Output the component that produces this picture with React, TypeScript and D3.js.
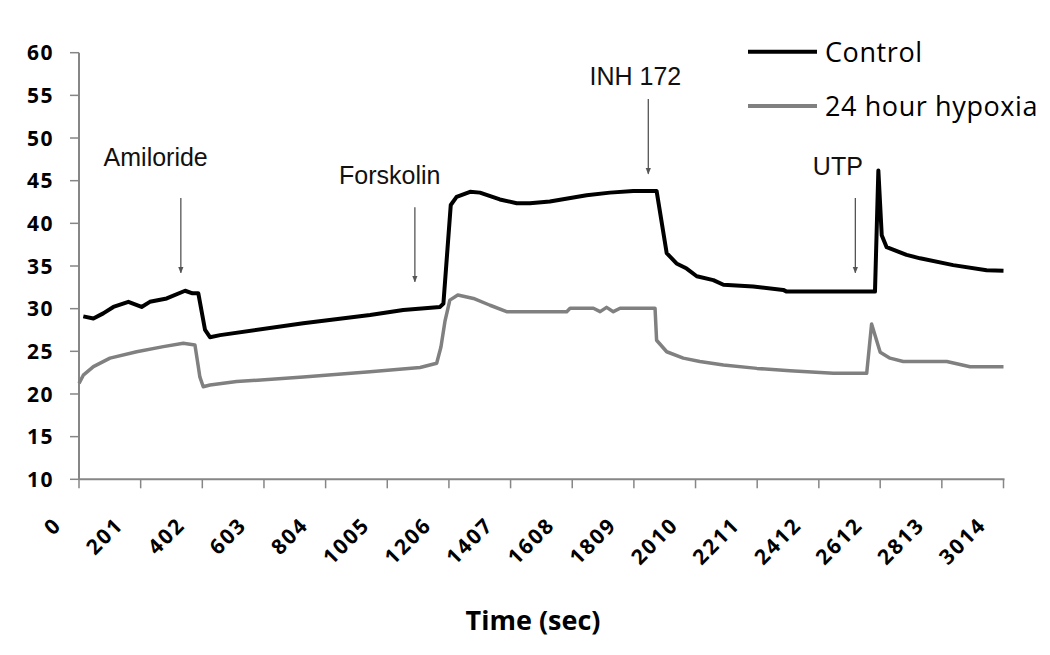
import React, { useEffect, useRef } from 'react';
import * as d3 from 'd3';

// time (sec) / value pairs
const controlTime = [14, 47, 79, 112, 161, 204, 231, 286, 346, 370, 389, 411, 427, 460, 731, 949, 1057, 1177, 1188, 1212, 1231, 1275, 1307, 1372, 1427, 1470, 1535, 1655, 1731, 1807, 1883, 1916, 1948, 1981, 2014, 2068, 2101, 2198, 2296, 2307, 2595, 2606, 2617, 2633, 2698, 2742, 2850, 2959, 3014];
const controlValue = [29.1, 28.85, 29.45, 30.2, 30.8, 30.2, 30.8, 31.2, 32.1, 31.8, 31.8, 27.5, 26.65, 26.9, 28.3, 29.25, 29.85, 30.2, 30.6, 42.15, 43.1, 43.7, 43.6, 42.8, 42.35, 42.35, 42.55, 43.3, 43.6, 43.8, 43.8, 36.5, 35.3, 34.7, 33.8, 33.35, 32.8, 32.6, 32.2, 32.0, 32.0, 46.2, 38.6, 37.2, 36.3, 35.9, 35.1, 34.5, 34.45];

const hypoxiaTime = [0, 14, 47, 101, 188, 275, 340, 378, 389, 394, 405, 427, 514, 731, 949, 1112, 1166, 1180, 1193, 1209, 1235, 1286, 1340, 1394, 1590, 1601, 1677, 1699, 1720, 1742, 1764, 1878, 1883, 1916, 1970, 2024, 2101, 2210, 2318, 2459, 2568, 2584, 2612, 2644, 2687, 2829, 2905, 3014];
const hypoxiaValue = [21.25, 22.2, 23.2, 24.2, 24.95, 25.55, 25.95, 25.75, 23.2, 22.0, 20.85, 21.05, 21.45, 22.0, 22.6, 23.1, 23.6, 25.5, 28.5, 31.0, 31.6, 31.2, 30.4, 29.65, 29.65, 30.05, 30.05, 29.65, 30.15, 29.65, 30.05, 30.05, 26.3, 24.95, 24.2, 23.8, 23.4, 23.0, 22.73, 22.42, 22.42, 28.2, 24.9, 24.2, 23.8, 23.8, 23.2, 23.2];

const xTickLabels = [0, 201, 402, 603, 804, 1005, 1206, 1407, 1608, 1809, 2010, 2211, 2412, 2612, 2813, 3014];
const yTickLabels = [10, 15, 20, 25, 30, 35, 40, 45, 50, 55, 60];

const seriesNames = ['Control', '24 hour hypoxia'];
const seriesColors = ['#000000', '#808080'];

// treatment annotations: label, arrow time, arrow top/bottom value, label value
const annotLabels = ['Amiloride', 'Forskolin', 'INH 172', 'UTP'];
const annotTime = [332, 1095, 1856, 2531];
const annotLabelTime = [250, 1013, 1814, 2474];
const annotTop = [42.97, 41.9, 54.57, 42.97];
const annotBottom = [34.2, 33.15, 45.8, 34.2];
const annotLabelValue = [46.72, 44.61, 56.2, 45.67];

const W = 1050, H = 655;
const margin = { left: 79, right: 46.5, top: 52.7, bottom: 175.7 };
const axisColor = '#868686';
const tickFont = "'Open Sans', sans-serif";

function Chart() {
    const ref = useRef<SVGSVGElement>(null);

    useEffect(() => {
        const svg = d3.select(ref.current);
        svg.selectAll('*').remove();

        const x = d3.scaleLinear().domain([0, 3014]).range([margin.left, W - margin.right]);
        const y = d3.scaleLinear().domain([10, 60]).range([H - margin.bottom, margin.top]);

        const defs = svg.append('defs');
        defs.append('marker')
            .attr('id', 'arrowhead')
            .attr('viewBox', '0 0 10 10')
            .attr('refX', 9).attr('refY', 5)
            .attr('markerWidth', 5).attr('markerHeight', 5)
            .attr('orient', 'auto')
            .append('path')
            .attr('d', 'M0,1 L10,5 L0,9 Z')
            .attr('fill', '#555');

        // y axis
        const yAxis = svg.append('g');
        yAxis.append('line')
            .attr('x1', x(0)).attr('x2', x(0))
            .attr('y1', y(10)).attr('y2', y(60))
            .attr('stroke', axisColor).attr('stroke-width', 2);
        yAxis.selectAll('line.tick')
            .data(yTickLabels).enter().append('line')
            .attr('class', 'tick')
            .attr('x1', x(0) - 9).attr('x2', x(0))
            .attr('y1', d => y(d)).attr('y2', d => y(d))
            .attr('stroke', axisColor).attr('stroke-width', 1.5);
        yAxis.selectAll('text')
            .data(yTickLabels).enter().append('text')
            .attr('x', 54).attr('y', d => y(d))
            .attr('dy', '0.36em')
            .attr('text-anchor', 'end')
            .attr('font-family', tickFont).attr('font-weight', 700)
            .attr('font-size', 21).attr('letter-spacing', 1.5)
            .attr('fill', '#000')
            .text(d => d);

        // x axis
        const xAxis = svg.append('g');
        xAxis.append('line')
            .attr('x1', x(0)).attr('x2', x(3014) + 1)
            .attr('y1', y(10)).attr('y2', y(10))
            .attr('stroke', axisColor).attr('stroke-width', 2);
        xAxis.selectAll('line.tick')
            .data(xTickLabels).enter().append('line')
            .attr('class', 'tick')
            .attr('x1', d => x(d)).attr('x2', d => x(d))
            .attr('y1', y(10)).attr('y2', y(10) + 9)
            .attr('stroke', axisColor).attr('stroke-width', 1.5);
        xAxis.selectAll('text')
            .data(xTickLabels).enter().append('text')
            .attr('transform', d => `translate(${x(d) - 16},${y(10) + 47}) rotate(-45)`)
            .attr('text-anchor', 'end')
            .attr('font-family', tickFont).attr('font-weight', 700)
            .attr('font-size', 21).attr('letter-spacing', 2)
            .attr('fill', '#000')
            .text(d => d);

        svg.append('text')
            .attr('x', 533).attr('y', 630)
            .attr('text-anchor', 'middle')
            .attr('font-family', tickFont).attr('font-weight', 700)
            .attr('font-size', 27)
            .text('Time (sec)');

        // series
        const line = d3.line<[number, number]>()
            .x(d => x(d[0]))
            .y(d => y(d[1]));
        const series = [
            d3.zip(controlTime, controlValue) as [number, number][],
            d3.zip(hypoxiaTime, hypoxiaValue) as [number, number][],
        ];
        svg.selectAll('path.series')
            .data(series).enter().append('path')
            .attr('class', 'series')
            .attr('d', d => line(d))
            .attr('fill', 'none')
            .attr('stroke', (d, i) => seriesColors[i])
            .attr('stroke-width', (d, i) => (i === 0 ? 4 : 3.5))
            .attr('stroke-linejoin', 'round');

        // annotations
        annotLabels.forEach((label, i) => {
            svg.append('line')
                .attr('x1', x(annotTime[i])).attr('x2', x(annotTime[i]))
                .attr('y1', y(annotTop[i])).attr('y2', y(annotBottom[i]))
                .attr('stroke', '#555').attr('stroke-width', 1.3)
                .attr('marker-end', 'url(#arrowhead)');
            svg.append('text')
                .attr('x', x(annotLabelTime[i])).attr('y', y(annotLabelValue[i]))
                .attr('text-anchor', 'middle')
                .attr('font-family', "'Liberation Sans', Arial, sans-serif")
                .attr('font-size', 25)
                .attr('fill', '#111')
                .text(label);
        });

        // legend
        const legend = svg.append('g');
        seriesNames.forEach((name, i) => {
            const ly = 51.7 + i * 54.3;
            legend.append('line')
                .attr('x1', 748).attr('x2', 817)
                .attr('y1', ly).attr('y2', ly)
                .attr('stroke', seriesColors[i]).attr('stroke-width', 4);
            legend.append('text')
                .attr('x', 825).attr('y', ly + 10)
                .attr('font-family', tickFont)
                .attr('font-size', 27).attr('letter-spacing', 0.6)
                .attr('fill', '#000')
                .text(name);
        });
    }, []);

    return <svg ref={ref} width={W} height={H} style={{ position: 'absolute', left: 0, top: 0, background: '#fff' }} />;
}

export default function App() {
    return <Chart />;
}
